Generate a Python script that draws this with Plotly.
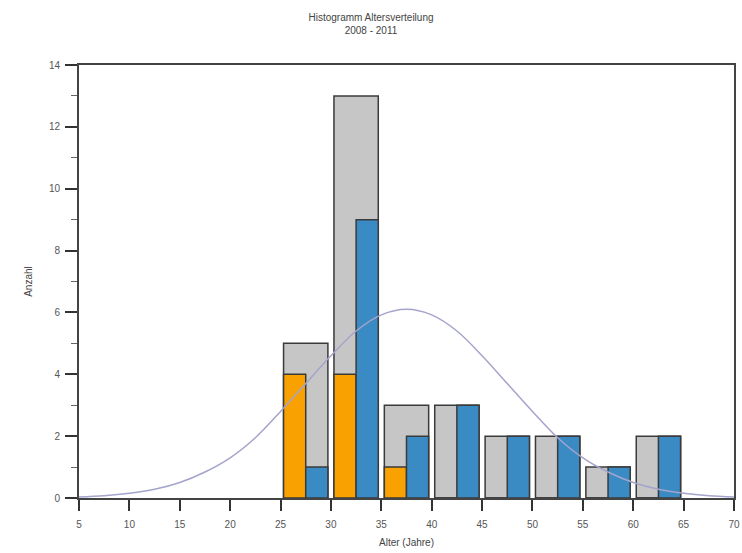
import plotly.graph_objects as go

# Data
bin_centers = [27.5, 32.5, 37.5, 42.5, 47.5, 52.5, 57.5, 62.5]
total_counts = [5, 13, 3, 3, 2, 2, 1, 2]
orange_counts = [4, 4, 1, 0, 0, 0, 0, 0]
blue_counts = [1, 9, 2, 3, 2, 2, 1, 2]

curve_x = [5, 7.5, 10, 12.5, 15, 17.5, 20, 22.5, 25, 27.5, 30, 32.5, 35, 37.5,
           40, 42.5, 45, 47.5, 50, 52.5, 55, 57.5, 60, 62.5, 65, 67.5, 70]
curve_y = [0.03, 0.07, 0.15, 0.28, 0.5, 0.84, 1.3, 1.95, 2.8, 3.7, 4.6, 5.4, 5.92, 6.1,
           5.92, 5.4, 4.6, 3.7, 2.8, 1.95, 1.3, 0.84, 0.5, 0.28, 0.15, 0.07, 0.03]

x_ticks = [5, 10, 15, 20, 25, 30, 35, 40, 45, 50, 55, 60, 65, 70]
y_ticks = [0, 2, 4, 6, 8, 10, 12, 14]

edge = dict(color="#3a3a3a", width=1.5)

fig = go.Figure()
fig.add_trace(go.Bar(x=bin_centers, y=total_counts, width=4.4,
                     marker=dict(color="#c6c6c6", line=edge), showlegend=False))
fig.add_trace(go.Bar(x=bin_centers, y=orange_counts, width=2.2, offset=-2.2,
                     marker=dict(color="#f9a100", line=edge), showlegend=False))
fig.add_trace(go.Bar(x=bin_centers, y=blue_counts, width=2.2, offset=0,
                     marker=dict(color="#3a8bc4", line=edge), showlegend=False))
fig.add_trace(go.Scatter(x=curve_x, y=curve_y, mode="lines",
                         line=dict(color="#a4a4cc", width=1.5, shape="spline"),
                         showlegend=False))

fig.update_layout(
    width=742, height=553,
    barmode="overlay",
    plot_bgcolor="white", paper_bgcolor="white",
    margin=dict(l=79, r=8, t=65, b=55, autoexpand=False),
    font=dict(family="Liberation Sans, Arial, sans-serif", size=10, color="#555555"),
    title=dict(text="Histogramm Altersverteilung<br>2008 - 2011", x=0.5, xanchor="center",
               y=0.962, yanchor="top", font=dict(size=10, color="#444444")),
)
fig.update_xaxes(range=[5, 70], tickvals=x_ticks, ticks="outside", ticklen=11, tickwidth=2,
                 tickcolor="#333333", showline=True, linecolor="#444444", linewidth=2,
                 mirror=True, showgrid=False, zeroline=False, ticklabelstandoff=5,
                 automargin=False,
                 title=dict(text="Alter (Jahre)", standoff=10, font=dict(size=10, color="#444444")))
fig.update_yaxes(range=[0, 14], tickvals=y_ticks, ticks="outside", ticklen=12, tickwidth=2,
                 tickcolor="#333333", showline=True, linecolor="#444444", linewidth=2,
                 mirror=True, showgrid=False, zeroline=False, ticklabelstandoff=3,
                 automargin=False,
                 minor=dict(dtick=1, ticks="outside", ticklen=6, tickcolor="#666666", tickwidth=1),
                 title=dict(text="Anzahl", standoff=14, font=dict(size=10, color="#444444")))

fig.write_html("out.html")
